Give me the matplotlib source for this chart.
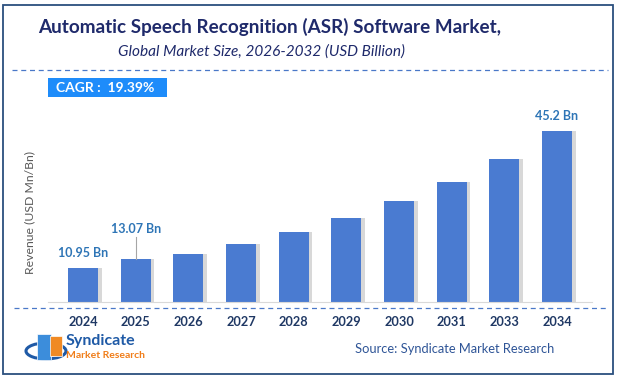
import matplotlib.pyplot as plt
from matplotlib.patches import Rectangle, Ellipse
from matplotlib.lines import Line2D

years = ["2024", "2025", "2026", "2027", "2028", "2029", "2030", "2031", "2033", "2034"]
revenue = [10.95, 13.07, 14.5, 17.0, 20.0, 23.4, 27.7, 32.4, 38.2, 45.2]
shown_labels = {0: "10.95 Bn", 1: "13.07 Bn", 9: "45.2 Bn"}

title = "Automatic Speech Recognition (ASR) Software Market,"
subtitle = "Global Market Size, 2026-2032 (USD Billion)"
cagr = "CAGR :  19.39%"
source = "Source: Syndicate Market Research"

W, H = 617, 380
fig = plt.figure(figsize=(W / 100, H / 100), dpi=100)
fig.patch.set_facecolor("white")
plt.rcParams['font.family'] = ['Lato', 'DejaVu Sans']


def fx(px):
    return px / W


def fy(py):
    return 1 - py / H


# outer border
fig.add_artist(Rectangle((fx(3), fy(374)), fx(610), 369 / H, transform=fig.transFigure,
                         fill=False, edgecolor="#2B4F7E", linewidth=1.3))

fig.text(fx(270), fy(27), title, ha="center", va="center", fontsize=13.6,
         fontweight="bold", color="#1F2A6B")
fig.text(fx(262), fy(52), subtitle, ha="center", va="center", fontsize=11.1,
         style="italic", color="#1F2A6B")

fig.add_artist(Line2D([fx(12), fx(608)], [fy(70), fy(70)], transform=fig.transFigure,
                      color="#4A78C8", linestyle=(0, (4, 3)), linewidth=0.9))
fig.add_artist(Line2D([fx(14), fx(608)], [fy(308), fy(308)], transform=fig.transFigure,
                      color="#4A78C8", linestyle=(0, (4, 3)), linewidth=0.9))

# CAGR box
fig.add_artist(Rectangle((fx(48), fy(97)), fx(119), 19 / H, transform=fig.transFigure,
                         facecolor="#1E8CFA", edgecolor="none"))
fig.text(fx(105), fy(87.5), cagr, ha="center", va="center", fontsize=10,
         fontweight="bold", color="white")

# bars
ax = fig.add_axes([fx(48), fy(302), fx(544), 202 / H])
x = list(range(len(years)))
ax.bar([i + 0.07 for i in x], revenue, width=0.57, color="#B8B8B8", alpha=0.55, zorder=1)
ax.bar(x, revenue, width=0.57, color="#4A7BD1", zorder=2)
ax.set_xlim(-0.665, 9.665)
ax.set_ylim(2.36, 52.99)
for s in ["top", "right", "left"]:
    ax.spines[s].set_visible(False)
ax.spines["bottom"].set_color("#D9D9D9")
ax.set_yticks([])
ax.set_xticks(x)
ax.set_xticklabels(years, fontsize=9.2, fontweight="bold", color="#1F3864")
ax.tick_params(axis="x", length=0, pad=10)

for i, lab in shown_labels.items():
    if i == 1:
        ax.plot([i, i], [revenue[i], revenue[i] + 5.5], color="#A6A6A6", linewidth=0.8)
        ax.text(i, revenue[i] + 6.2, lab, ha="center", va="bottom", fontsize=9,
                fontweight="bold", color="#2E75B6")
    else:
        ax.text(i, revenue[i] + 2.2, lab, ha="center", va="bottom", fontsize=9,
                fontweight="bold", color="#2E75B6")

fig.text(fx(30), fy(212), "Revenue (USD Mn/Bn)", rotation=90, ha="center", va="center",
         fontsize=8.8, color="#595959")

fig.text(fx(455), fy(349), source, ha="center", va="center", fontsize=9.3, color="#2F5597")

# logo
fig.add_artist(Ellipse((fx(46), fy(351)), fx(40), 16 / H, transform=fig.transFigure,
                       fill=False, edgecolor="#1F5AA6", linewidth=2.2))
fig.add_artist(Rectangle((fx(37), fy(360)), fx(14), 26 / H, transform=fig.transFigure,
                         facecolor="#3C8DDB", edgecolor="white", linewidth=0.5))
fig.add_artist(Rectangle((fx(50), fy(356)), fx(12), 20 / H, transform=fig.transFigure,
                         facecolor="#F08A24", edgecolor="white", linewidth=0.5))
fig.text(fx(66), fy(341), "Syndicate", ha="left", va="center", fontsize=11.5,
         fontweight="bold", color="#1F5AA6")
fig.text(fx(66), fy(356), "Market Research", ha="left", va="center", fontsize=7.5,
         fontweight="bold", color="#F07D19")

fig.savefig("out.png", dpi=100, facecolor="white")
